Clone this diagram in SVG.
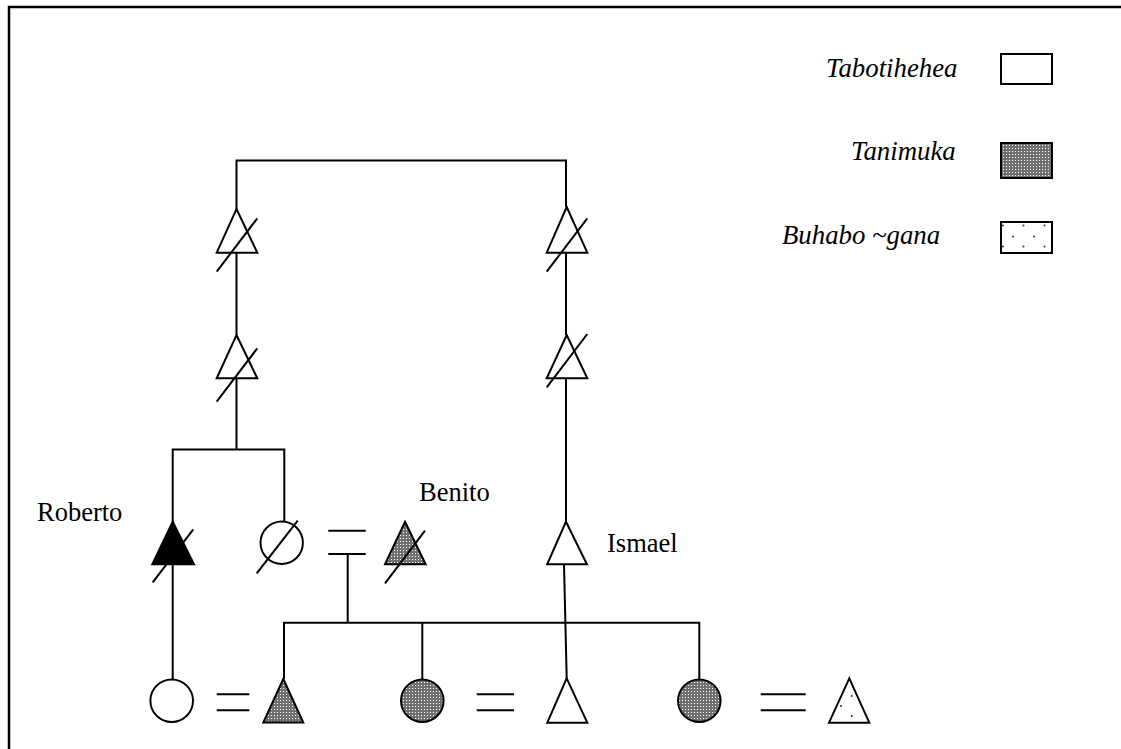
<svg xmlns="http://www.w3.org/2000/svg" width="1121" height="749" viewBox="0 0 1121 749">
  <style>
    .ln { stroke: #000; stroke-width: 2; fill: none; }
    .sym { stroke: #000; stroke-width: 2; stroke-linejoin: miter; }
    .white { fill: #fff; }
    .black { fill: #000; }
    .tan { fill: url(#tanimuka); }
    .buh { fill: #fff; }
    .dot { fill: #333; }
    .lbl { font-family: "Liberation Serif", "Times New Roman", serif; font-size: 26.5px; fill: #000; }
    .leg { font-family: "Liberation Serif", "Times New Roman", serif; font-size: 26.8px; font-style: italic; fill: #000; }
  </style>
  <defs>
    <!-- fine stipple used for the Tanimuka fill -->
    <pattern id="tanimuka" width="3" height="3" patternUnits="userSpaceOnUse">
      <rect width="3" height="3" fill="#707070"/>
      <rect x="1" y="1" width="1" height="1" fill="#fff"/>
    </pattern>
  </defs>

  <rect width="1121" height="749" fill="#fff"/>
  <!-- frame -->
  <rect x="9" y="7" width="1200" height="800" fill="none" stroke="#000" stroke-width="2.5"/>

  <!-- legend -->
  <g id="legend">
    <text class="leg" x="826" y="77">Tabotihehea</text>
    <rect x="1001" y="54" width="51" height="30" class="sym white"/>
    <text class="leg" x="851" y="160">Tanimuka</text>
    <rect x="1001" y="143" width="51" height="35" class="sym tan"/>
    <text class="leg" x="782" y="244">Buhabo ~gana</text>
    <rect x="1001" y="222" width="51" height="31" class="sym buh"/>
    <circle class="dot" cx="1003" cy="225.5" r="1"/>
    <circle class="dot" cx="1023.5" cy="225.5" r="1"/>
    <circle class="dot" cx="1044.5" cy="225.5" r="1"/>
    <circle class="dot" cx="1013" cy="236.5" r="1"/>
    <circle class="dot" cx="1034" cy="236.5" r="1"/>
    <circle class="dot" cx="1003" cy="246.5" r="1"/>
    <circle class="dot" cx="1023.5" cy="246.5" r="1"/>
    <circle class="dot" cx="1044.5" cy="246.5" r="1"/>
  </g>

  <!-- connectors -->
  <g id="connectors" class="ln">
    <polyline points="236.5,209 236.5,160.5 566,160.5 566,207"/>
    <line x1="236.5" y1="252.7" x2="236.5" y2="335"/>
    <line x1="566" y1="252.7" x2="566" y2="335"/>
    <line x1="236.5" y1="378.3" x2="236.5" y2="449.5"/>
    <polyline points="172.7,521.7 172.7,449.5 284.3,449.5 284.3,521.5"/>
    <line x1="566" y1="378.3" x2="566" y2="521.7"/>
    <line x1="172.7" y1="564.3" x2="172.7" y2="679.4"/>
    <!-- marriage sign, parents of the lower sibling set -->
    <line x1="328.3" y1="530.7" x2="365.7" y2="530.7"/>
    <line x1="328.3" y1="554" x2="365.7" y2="554"/>
    <line x1="347.7" y1="554" x2="347.7" y2="622.7"/>
    <polyline points="284,679 284,622.7 699.3,622.7 699.3,679.4"/>
    <line x1="422.3" y1="622.7" x2="422.3" y2="679.4"/>
    <line x1="564" y1="564.3" x2="566.7" y2="678.3"/>
    <!-- marriage signs, bottom row -->
    <line x1="216.7" y1="694.3" x2="249.3" y2="694.3"/>
    <line x1="216.7" y1="710.3" x2="249.3" y2="710.3"/>
    <line x1="476.7" y1="694.3" x2="514" y2="694.3"/>
    <line x1="476.7" y1="710.3" x2="514" y2="710.3"/>
    <line x1="760.7" y1="694.3" x2="805.7" y2="694.3"/>
    <line x1="760.7" y1="710.3" x2="805.7" y2="710.3"/>
  </g>

  <!-- upper generations -->
  <g id="ancestor-l1">
    <polygon class="sym white" points="236.5,209 257.3,252.7 216.7,252.7"/>
    <line class="ln" x1="216.7" y1="271.7" x2="257.3" y2="218.3"/>
  </g>
  <g id="ancestor-l2">
    <polygon class="sym white" points="236.5,335 257.3,378.3 216.7,378.3"/>
    <line class="ln" x1="216.7" y1="401.7" x2="257.3" y2="348.3"/>
  </g>
  <g id="ancestor-r1">
    <polygon class="sym white" points="566.7,207 587.3,252.7 546.7,252.7"/>
    <line class="ln" x1="546.7" y1="271.7" x2="587.3" y2="218.3"/>
  </g>
  <g id="ancestor-r2">
    <polygon class="sym white" points="566.7,335 587.3,378.3 546.7,378.3"/>
    <line class="ln" x1="546.7" y1="387.3" x2="587.3" y2="334"/>
  </g>

  <!-- middle generation -->
  <g id="roberto">
    <polygon class="sym black" points="172.7,521.7 194,564.3 152.3,564.3"/>
    <line class="ln" x1="152.7" y1="582.3" x2="193.3" y2="529.3"/>
    <text class="lbl" x="37" y="521">Roberto</text>
  </g>
  <g id="sister">
    <circle class="sym white" cx="281.7" cy="542.7" r="21.2"/>
    <line class="ln" x1="256.7" y1="573.3" x2="297.7" y2="520.7"/>
  </g>
  <g id="benito">
    <polygon class="sym tan" points="405,521.7 425.7,564.3 385,564.3"/>
    <line class="ln" x1="385" y1="583.3" x2="425" y2="530.7"/>
    <text class="lbl" x="419" y="501">Benito</text>
  </g>
  <g id="ismael">
    <polygon class="sym white" points="566,521.7 586.9,564.3 547.2,564.3"/>
    <text class="lbl" x="607" y="552">Ismael</text>
  </g>

  <!-- bottom generation -->
  <g id="wife-1">
    <circle class="sym white" cx="171.7" cy="700.7" r="21.3"/>
  </g>
  <g id="son-1">
    <polygon class="sym tan" points="283.3,679 303.3,722.5 263.3,722.5"/>
  </g>
  <g id="daughter-1">
    <circle class="sym tan" cx="422.3" cy="700.7" r="21.3"/>
  </g>
  <g id="son-2">
    <polygon class="sym white" points="566.7,678.3 587.3,722.7 547.3,722.7"/>
  </g>
  <g id="daughter-2">
    <circle class="sym tan" cx="699.3" cy="700.7" r="21.3"/>
  </g>
  <g id="husband-2">
    <polygon class="sym buh" points="849.3,678.3 869.3,722.7 829,722.7"/>
    <circle class="dot" cx="851.7" cy="696" r="1"/>
    <circle class="dot" cx="841" cy="706" r="1"/>
    <circle class="dot" cx="851.7" cy="716" r="1"/>
  </g>
</svg>
